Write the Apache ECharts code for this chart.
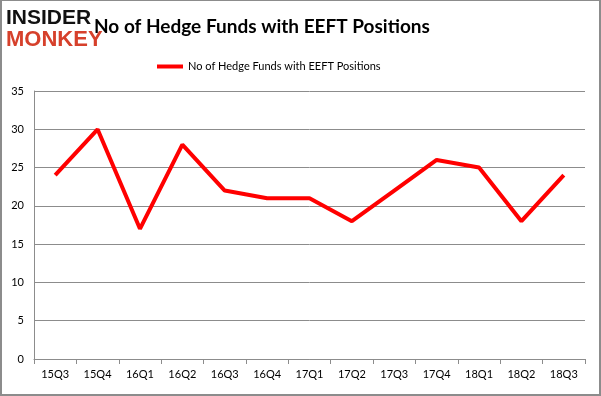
<!DOCTYPE html>
<html>
<head>
<meta charset="utf-8">
<script src="https://cdn.jsdelivr.net/npm/echarts@6/dist/echarts.min.js"></script>
<style>
  html, body { margin: 0; padding: 0; background: #fff; }
  #chart { width: 601px; height: 396px; box-sizing: border-box; border: 2px solid #8c8c8c; border-top: 1px solid #8c8c8c; }
</style>
</head>
<body>
<div id="chart"></div>
<script>
const quarters = ['15Q3', '15Q4', '16Q1', '16Q2', '16Q3', '16Q4', '17Q1', '17Q2', '17Q3', '17Q4', '18Q1', '18Q2', '18Q3']
const hedgeFunds = [24, 30, 17, 28, 22, 21, 21, 18, 22, 26, 25, 18, 24]
const seriesName = 'No of Hedge Funds with EEFT Positions'
const chartTitle = 'No of Hedge Funds with EEFT Positions'

const chart = echarts.init(document.getElementById('chart'))

chart.setOption({
  backgroundColor: '#fff',
  animation: false,
  textStyle: { fontFamily: 'Lato, "Open Sans", sans-serif' },
  title: {
    text: chartTitle,
    left: 87,
    top: 11,
    textStyle: { fontFamily: 'Lato', fontWeight: 'bold', fontSize: 19, color: '#000' },
  },
  graphic: [
    {
      type: 'text', left: 4, top: 7,
      style: { text: 'INSIDER', fontFamily: '"Liberation Sans"', fontWeight: 'bold', fontSize: 21, fill: '#111' },
    },
    {
      type: 'text', left: 4, top: 28,
      style: { text: 'MONKEY', fontFamily: '"Liberation Sans"', fontWeight: 'bold', fontSize: 22, fill: '#d6402b' },
    },
  ],
  legend: {
    left: 150,
    top: 55,
    itemWidth: 26,
    itemHeight: 4,
    itemGap: 4,
    icon: 'rect',
    textStyle: { fontSize: 11, color: '#000', fontFamily: 'Lato' },
    data: [seriesName],
  },
  grid: { left: 32, right: 14, top: 90, bottom: 35, containLabel: false },
  xAxis: {
    type: 'category',
    data: quarters,
    boundaryGap: true,
    axisLine: { lineStyle: { color: '#8c8c8c' } },
    axisTick: { show: true, length: 5, lineStyle: { color: '#8c8c8c' } },
    axisLabel: { color: '#000', fontSize: 11, margin: 10 },
    splitLine: { show: false },
  },
  yAxis: {
    type: 'value',
    min: 0,
    max: 35,
    interval: 5,
    axisLine: { show: true, lineStyle: { color: '#8c8c8c' } },
    axisTick: { show: false },
    axisLabel: { color: '#000', fontSize: 11, margin: 10 },
    splitLine: { show: true, lineStyle: { color: '#8c8c8c' } },
  },
  series: [{
    name: seriesName,
    type: 'line',
    data: hedgeFunds,
    showSymbol: false,
    symbol: 'none',
    lineStyle: { width: 4, color: '#ff0000' },
    itemStyle: { color: '#ff0000' },
  }],
})
</script>
</body>
</html>
